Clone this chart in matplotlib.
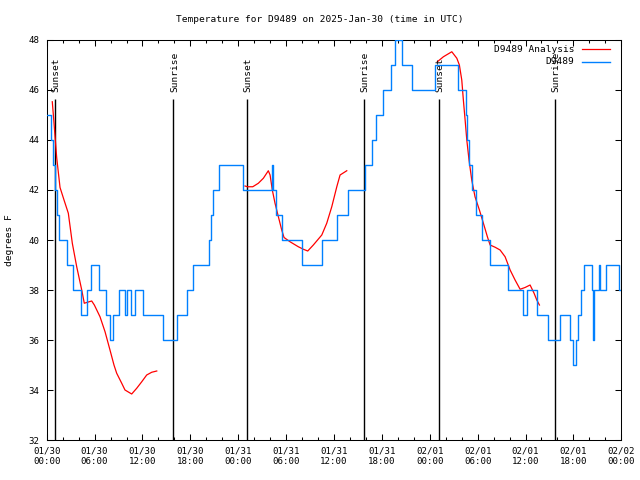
import matplotlib
matplotlib.use("Agg")
import matplotlib.pyplot as plt
import numpy as np

# hours since 01/30 00:00 UTC
obs_t = [0, 0.54, 0.83, 1.1, 1.35, 1.6, 2.58, 3.33, 4.34, 5.09, 5.59, 6.59, 7.47, 7.97,
         8.35, 9.10, 9.85, 10.10, 10.60, 11.10, 12.11, 14.61, 16.37, 17.62, 18.37, 20.38,
         20.63, 20.88, 21.63, 24.64, 28.24, 28.36, 28.68, 29.49, 31.96, 34.47, 36.35, 37.72,
         39.89, 40.77, 41.27, 42.15, 43.15, 43.65, 44.47, 45.78, 48.67, 51.59, 52.51, 52.71,
         52.92, 53.26, 53.80, 54.59, 55.59, 57.85, 59.73, 60.16, 61.45, 62.86, 64.37, 65.62,
         66.00, 66.38, 66.63, 66.93, 67.35, 68.30, 68.40, 68.59, 69.15, 69.34, 70.13, 71.76, 72.0]
obs_v = [45, 44, 43, 42, 41, 40, 39, 38, 37, 38, 39, 38, 37, 36,
         37, 38, 37, 38, 37, 38, 37, 36, 37, 38, 39, 40,
         41, 42, 43, 42, 43, 42, 41, 40, 39, 40, 41, 42,
         43, 44, 45, 46, 47, 48, 47, 46, 47, 46, 45, 44,
         43, 42, 41, 40, 39, 38, 37, 38, 37, 36, 37, 36,
         35, 36, 37, 38, 39, 38, 36, 38, 39, 38, 39, 38, 38]

an1_t = [0.70, 0.91, 1.25, 1.67, 2.17, 2.71, 3.21, 3.76, 4.39, 4.71, 5.21, 5.64, 5.97,
         6.68, 7.31, 7.93, 8.43, 8.77, 9.40, 9.81, 10.65, 11.28, 11.91, 12.53, 13.16, 13.79]
an1_v = [45.53, 44.7, 43.3, 42.1, 41.6, 41.07, 39.87, 38.93, 38.0, 37.47, 37.52, 37.56, 37.4,
         36.93, 36.33, 35.6, 35.0, 34.67, 34.27, 34.0, 33.84, 34.07, 34.33, 34.6, 34.71, 34.76]
an2_t = [24.85, 25.14, 25.82, 26.52, 27.15, 27.77, 27.99, 28.27, 28.61, 29.03, 29.45, 29.74,
         30.49, 31.53, 32.16, 32.71, 33.41, 34.47, 35.09, 35.72, 36.35, 36.76, 37.60]
an2_v = [42.16, 42.13, 42.13, 42.27, 42.47, 42.77, 42.6, 42.0, 41.47, 40.93, 40.4, 40.1,
         39.93, 39.73, 39.63, 39.56, 39.8, 40.2, 40.67, 41.33, 42.13, 42.6, 42.77]
an3_t = [48.95, 49.71, 50.76, 51.39, 51.71, 52.01, 52.21, 52.43, 52.64, 52.92, 53.26, 53.67,
         54.22, 54.72, 55.22, 55.56, 56.19, 56.81, 57.44, 58.07, 58.69, 59.32, 59.94, 60.57,
         61.07, 61.41, 61.74]
an3_v = [47.13, 47.33, 47.53, 47.27, 47.0, 46.4, 45.6, 44.8, 44.0, 43.2, 42.4, 41.73,
         41.2, 40.67, 40.13, 39.8, 39.71, 39.6, 39.33, 38.8, 38.4, 38.03, 38.1, 38.2,
         37.87, 37.6, 37.4]

sun_t = [1.0, 15.82, 25.04, 39.73, 49.12, 63.65]
sun_lab = ["Sunset", "Sunrise", "Sunset", "Sunrise", "Sunset", "Sunrise"]

xticks = [0, 6, 12, 18, 24, 30, 36, 42, 48, 54, 60, 66, 72]
xlabels = ["01/30\n00:00", "01/30\n06:00", "01/30\n12:00", "01/30\n18:00",
           "01/31\n00:00", "01/31\n06:00", "01/31\n12:00", "01/31\n18:00",
           "02/01\n00:00", "02/01\n06:00", "02/01\n12:00", "02/01\n18:00",
           "02/02\n00:00"]
yticks = [32, 34, 36, 38, 40, 42, 44, 46, 48]

plt.rcParams['font.family'] = ['DejaVu Sans Mono']
plt.rcParams['font.size'] = 6.6

fig = plt.figure(figsize=(6.4, 4.8), dpi=100)
ax = fig.add_axes([46.7 / 640, 40 / 480, 574.6 / 640, 400 / 480])

ax.vlines(sun_t, 32, 45.64, color='black', lw=1.0, zorder=1)
for t, s in zip(sun_t, sun_lab):
    ax.text(t + 0.2, 45.92, s, rotation=90, ha='center', va='bottom', fontsize=6.8)

red = '#ff0000'
blue = '#0080ff'
for i, (tt, vv) in enumerate([(an1_t, an1_v), (an2_t, an2_v), (an3_t, an3_v)]):
    ax.plot(tt, vv, color=red, lw=0.9, zorder=2)
ax.step(obs_t, obs_v, where='post', color=blue, lw=1.0, zorder=3)

# legend drawn by hand, gnuplot style
ax.text(0.918, 0.977, "D9489 Analysis", transform=ax.transAxes, ha='right', va='center', fontsize=6.8)
ax.text(0.918, 0.945, "D9489", transform=ax.transAxes, ha='right', va='center', fontsize=6.8)
ax.plot([0.932, 0.981], [0.9775, 0.9775], color=red, lw=0.9, transform=ax.transAxes)
ax.plot([0.932, 0.981], [0.945, 0.945], color=blue, lw=1.0, transform=ax.transAxes)

ax.set_xlim(0, 72)
ax.set_ylim(32, 48)
ax.set_xticks(xticks)
ax.set_xticklabels(xlabels)
ax.set_xticks(np.arange(0, 73, 2), minor=True)
ax.set_yticks(yticks)
ax.tick_params(which='both', direction='in', top=True, right=True, width=0.75)
ax.tick_params(which='major', length=4, pad=5)
ax.tick_params(which='minor', length=2.2)
for sp in ax.spines.values():
    sp.set_linewidth(0.75)

fig.text(0.5, 1 - 19 / 480, "Temperature for D9489 on 2025-Jan-30 (time in UTC)",
         ha='center', va='center', fontsize=6.8)
fig.text(10 / 640, 0.5, "degrees F", rotation=90, ha='center', va='center', fontsize=6.8)

fig.savefig("out.png", dpi=100)
